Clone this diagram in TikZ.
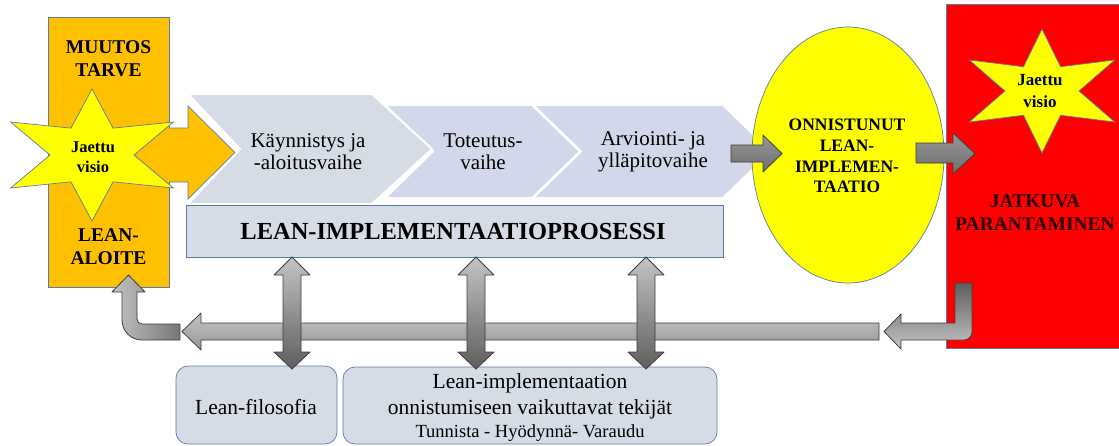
\documentclass[tikz,border=0pt]{standalone}
\usepackage{fontspec}
\setmainfont{Liberation Serif}
\usetikzlibrary{shapes.geometric}
\definecolor{orng}{HTML}{FFC000}
\definecolor{bordc}{HTML}{5A7BAA}
\definecolor{chevA}{HTML}{D6DCE5}
\definecolor{chevB}{HTML}{D3D7EA}
\definecolor{boxc}{HTML}{D6DCE5}
\definecolor{yel}{HTML}{FFFF00}
\definecolor{redc}{HTML}{FF0000}
\definecolor{darkred}{HTML}{2A0000}
\definecolor{arrd}{HTML}{3C3C3C}
\definecolor{gLight}{HTML}{C4C4C4}
\definecolor{gMid}{HTML}{969696}
\definecolor{gDark}{HTML}{5E5E5E}
\begin{document}
\begin{tikzpicture}[x=1pt,y=-1pt,
  every node/.style={inner sep=0pt, outer sep=0pt},
  bx/.style={draw=bordc, line width=0.7pt},
  txt/.style={align=center, font=\fontsize{21}{22}\selectfont},
  btxt/.style={align=center, font=\bfseries\fontsize{19.5}{23}\selectfont},
  startxt/.style={align=center, font=\bfseries\fontsize{16.5}{20.5}\selectfont},
  chevsty/.style={draw=white, line width=2pt},
  garrow/.style={draw=arrd, line width=0.8pt, line join=round},
  starsty/.style={draw=bordc, line width=0.7pt, fill=yel}]
\useasboundingbox (0,0) rectangle (1119,445);

% ---- chevrons
\path[chevsty, fill=chevB] (533,105) -- (723,105) -- (771,151.5) -- (723,198) -- (533,198) -- (581,151.5) -- cycle;
\path[chevsty, fill=chevB] (385,105) -- (532,105) -- (580,151.5) -- (532,198) -- (385,198) -- (433,151.5) -- cycle;
\path[chevsty, fill=chevA] (188,94) -- (372,94) -- (432,149) -- (372,204) -- (188,204) -- (240,149) -- cycle;
\node[txt] (c1) at (308,151.5) {Käynnistys ja\\-aloitusvaihe};
\node[txt] (c2) at (483,151.5) {Toteutus-\\vaihe};
\node[txt] (c3) at (653,151.5) {Arviointi- ja\\ylläpitovaihe};

% ---- process box
\node[bx, fill=boxc, minimum width=537pt, minimum height=52pt] (proc) at (454.5,231) {};
\node[font=\bfseries\fontsize{24.5}{26}\selectfont] (proct) at (453,232) {LEAN-IMPLEMENTAATIOPROSESSI};

% ---- orange box, arrow, star
\node[bx, fill=orng, minimum width=121pt, minimum height=270pt] (orange) at (108.5,152) {};
\fill[orng] (165,128) -- (188,128) -- (188,106) -- (235,152.5) -- (188,199) -- (188,182) -- (165,182) -- cycle;
\draw[bordc, line width=0.7pt] (169,128) -- (188,128) -- (188,106) -- (235,152.5) -- (188,199) -- (188,182) -- (169,182);
\draw[starsty] plot[samples at={0,...,11}, variable=\k]
  ({92+(68+26*cos(180*\k))*cos(90+30*\k)}, {155-(48.5+17.5*cos(180*\k))*sin(90+30*\k)}) -- cycle;
\node[btxt] (muutos) at (108.5,58.5) {MUUTOS\\TARVE};
\node[btxt] (aloite) at (108.5,247) {LEAN-\\ALOITE};
\node[startxt] (visioL) at (93,157) {Jaettu\\visio};

% ---- ellipse
\node[draw=bordc, line width=0.7pt, fill=yel, ellipse, minimum width=192pt, minimum height=256pt] (onn) at (848,155) {};
\node[align=center, font=\bfseries\fontsize{17.5}{20.7}\selectfont] (onnt) at (847,156) {ONNISTUNUT\\LEAN-\\IMPLEMEN-\\TAATIO};

% ---- red box
\node[bx, fill=redc, minimum width=176pt, minimum height=344pt] (red) at (1034,176) {};
\draw[starsty] plot[samples at={0,...,11}, variable=\k]
  ({1042+(60.5+23.5*cos(180*\k))*cos(90+30*\k)}, {91-(45+17*cos(180*\k))*sin(90+30*\k)}) -- cycle;
\node[startxt, font=\bfseries\fontsize{17}{22}\selectfont] (visioR) at (1040,91.5) {Jaettu\\visio};
\node[btxt, text=darkred] (jatk) at (1035,213) {JATKUVA\\PARANTAMINEN};

% ---- right-pointing gray arrows
\draw[garrow, top color=gMid, bottom color=gDark!90] (731,145) -- (763,145) -- (763,135) -- (782,153.5) -- (763,172) -- (763,162) -- (731,162) -- cycle;
\draw[garrow, top color=gMid, bottom color=gDark!90] (916,143) -- (953,143) -- (953,133) -- (975,153.5) -- (953,174) -- (953,163) -- (916,163) -- cycle;

% ---- bottom boxes
\node[bx, fill=boxc, rounded corners=12pt, minimum width=161pt, minimum height=78pt] (filo) at (256.5,405) {};
\node[txt, font=\fontsize{21.5}{22}\selectfont] (filot) at (256,407) {Lean-filosofia};
\node[bx, fill=boxc, rounded corners=12pt, minimum width=374pt, minimum height=77pt] (tekij) at (530,405.5) {};
\node[txt, font=\fontsize{21.5}{26}\selectfont] (tek1) at (530,396) {Lean-implementaation\\onnistumiseen vaikuttavat tekijät};
\node[font=\fontsize{18.5}{20}\selectfont] (tek2) at (530,433) {Tunnista - Hyödynnä- Varaudu};

% ---- feedback arrows
\draw[garrow, top color=gDark, bottom color=gLight] (955,283) -- (972,283) [rounded corners=8pt] -- (972,340) [sharp corners] -- (901,340) -- (901,349) -- (884,331.5) -- (901,314) -- (901,323) -- (955,323) -- cycle;
\draw[garrow, top color=gLight, bottom color=gMid] (879,323) -- (201,323) -- (201,313) -- (182,331.5) -- (201,350) -- (201,340) -- (879,340) -- cycle;
\draw[garrow, left color=gLight, right color=gDark!85] (180,324) [rounded corners=5pt] -- (137,324) [sharp corners] -- (137,292) -- (145,292) -- (128.5,275) -- (112,292) -- (122,292) [rounded corners=20pt] -- (122,340) [sharp corners] -- (180,340) -- cycle;

% ---- double vertical arrows
\foreach \cx/\nm in {292/va, 476/vb, 646/vc}{
  \coordinate (\nm) at (\cx,257);
  \draw[garrow, top color=gLight, bottom color=gDark] (\cx,257) -- (\cx+18,275) -- (\cx+9,275) -- (\cx+9,352) -- (\cx+18,352) -- (\cx,369) -- (\cx-18,352) -- (\cx-9,352) -- (\cx-9,275) -- (\cx-18,275) -- cycle;
}
\end{tikzpicture}
\end{document}
